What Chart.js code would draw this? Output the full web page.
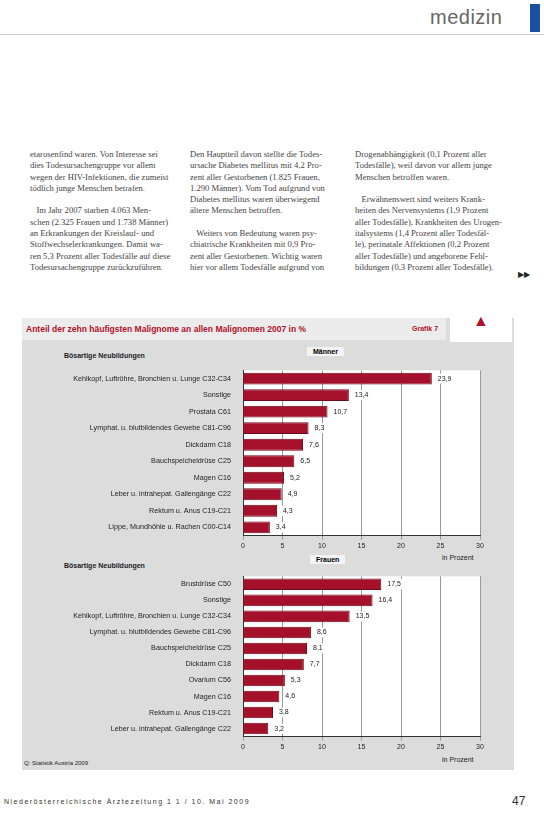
<!DOCTYPE html>
<html><head><meta charset="utf-8">
<script src="https://cdn.jsdelivr.net/npm/chart.js@4"></script>
<style>
body{margin:0;width:544px;height:822px;background:#fff;position:relative;overflow:hidden;font-family:"Liberation Sans",Arial,sans-serif}
.col{position:absolute;top:149px;width:148px;font-family:"Liberation Serif",serif;font-size:8.6px;line-height:11.3px;color:#444;white-space:pre}
#panel{position:absolute;left:22px;top:318px;width:492px;height:452px;background:#dcdcdc}
#titlebar{position:absolute;left:22px;top:318px;width:420px;height:22px;background:#ececec;color:#b0102a;font-size:8.5px;font-weight:bold;line-height:22px;padding-left:4px}
canvas{position:absolute}
.lbl{position:absolute;font-size:7px;color:#222}
.box{position:absolute;background:#f4f4f4;font-size:7px;font-weight:bold;padding:1px 6px}
</style></head><body>
<div style="position:absolute;left:430px;top:6px;font-size:20px;color:#666;letter-spacing:0.5px">medizin</div>
<div style="position:absolute;left:530px;top:4px;width:10px;height:28px;background:#1a50a0"></div>
<div style="position:absolute;left:0;top:34px;width:544px;height:1px;background:#ccc"></div>
<div class="col" style="left:30px">etarosenfind waren. Von Interesse sei
dies Todesursachengruppe vor allem
wegen der HIV-Infektionen, die zumeist
tödlich junge Menschen betrafen.

   Im Jahr 2007 starben 4.063 Men-
schen (2.325 Frauen und 1.738 Männer)
an Erkrankungen der Kreislauf- und
Stoffwechselerkrankungen. Damit wa-
ren 5,3 Prozent aller Todesfälle auf diese
Todesursachengruppe zurückzuführen.</div>
<div class="col" style="left:190px">Den Hauptteil davon stellte die Todes-
ursache Diabetes mellitus mit 4,2 Pro-
zent aller Gestorbenen (1.825 Frauen,
1.290 Männer). Vom Tod aufgrund von
Diabetes mellitus waren überwiegend
ältere Menschen betroffen.

   Weiters von Bedeutung waren psy-
chiatrische Krankheiten mit 0,9 Pro-
zent aller Gestorbenen. Wichtig waren
hier vor allem Todesfälle aufgrund von</div>
<div class="col" style="left:355px">Drogenabhängigkeit (0,1 Prozent aller
Todesfälle), weil davon vor allem junge
Menschen betroffen waren.

   Erwähnenswert sind weiters Krank-
heiten des Nervensystems (1,9 Prozent
aller Todesfälle), Krankheiten des Urogen-
italsystems (1,4 Prozent aller Todesfäl-
le), perinatale Affektionen (0,2 Prozent
aller Todesfälle) und angeborene Fehl-
bildungen (0,3 Prozent aller Todesfälle).</div>
<div style="position:absolute;left:518px;top:270px;font-size:8px;color:#222">▶▶</div>
<div id="panel"></div>
<div id="titlebar">Anteil der zehn häufigsten Malignome an allen Malignomen 2007 in %</div>
<div style="position:absolute;left:412px;top:325px;font-size:7px;color:#b0102a;font-weight:bold">Grafik 7</div>
<div style="position:absolute;left:450px;top:312px;width:62px;height:30px;background:#fff;text-align:center;color:#b0102a;font-size:16px">▲</div>
<div class="lbl" style="left:64px;top:352px;font-weight:bold">Bösartige Neubildungen</div>
<div class="box" style="left:307px;top:347px">Männer</div>
<div class="lbl" style="left:442px;top:554px">in Prozent</div>
<div class="lbl" style="left:64px;top:562px;font-weight:bold">Bösartige Neubildungen</div>
<div class="box" style="left:310px;top:555px">Frauen</div>
<div class="lbl" style="left:442px;top:756px">in Prozent</div>
<div class="lbl" style="left:24px;top:760px;font-size:6px">Q: Statistik Austria 2009</div>
<canvas id="men" width="470" height="190" style="left:30px;top:362px;width:470px;height:190px"></canvas>
<canvas id="women" width="470" height="185" style="left:30px;top:568px;width:470px;height:185px"></canvas>
<div style="position:absolute;left:4px;top:798px;font-size:7px;color:#333;letter-spacing:1.5px">Niederösterreichische Ärztezeitung 1 1 / 10. Mai 2009</div>
<div style="position:absolute;left:512px;top:794px;font-size:12px;color:#333">47</div>
<script>
var menLabels = ["Kehlkopf, Luftröhre, Bronchien u. Lunge C32-C34", "Sonstige", "Prostata C61", "Lymphat. u. blutbildendes Gewebe C81-C96", "Dickdarm C18", "Bauchspeicheldrüse C25", "Magen C16", "Leber u. intrahepat. Gallengänge C22", "Rektum u. Anus C19-C21", "Lippe, Mundhöhle u. Rachen C00-C14"];
var menValues = [23.9, 13.4, 10.7, 8.3, 7.6, 6.5, 5.2, 4.9, 4.3, 3.4];
var womenLabels = ["Brustdrüse C50", "Sonstige", "Kehlkopf, Luftröhre, Bronchien u. Lunge C32-C34", "Lymphat. u. blutbildendes Gewebe C81-C96", "Bauchspeicheldrüse C25", "Dickdarm C18", "Ovarium C56", "Magen C16", "Rektum u. Anus C19-C21", "Leber u. intrahepat. Gallengänge C22"];
var womenValues = [17.5, 16.4, 13.5, 8.6, 8.1, 7.7, 5.3, 4.6, 3.8, 3.2];
var xTicks = [0, 5, 10, 15, 20, 25, 30];

var valueLabels = {
  id: 'valueLabels',
  afterDatasetsDraw: function(chart){
    var c = chart.ctx;
    var meta = chart.getDatasetMeta(0);
    c.save();
    c.font = '7px "Liberation Sans"';
    c.textBaseline = 'middle';
    meta.data.forEach(function(bar, i){
      var v = chart.data.datasets[0].data[i];
      var t = v.toFixed(1).replace('.', ',');
      var w = c.measureText(t).width;
      c.fillStyle = '#fff';
      c.fillRect(bar.x + 4, bar.y - 5, w + 4, 10);
      c.fillStyle = '#222';
      c.fillText(t, bar.x + 6, bar.y);
    });
    c.restore();
  },
  beforeDraw: function(chart){
    var a = chart.chartArea;
    chart.ctx.fillStyle = '#fff';
    chart.ctx.fillRect(a.left, a.top, a.right - a.left, a.bottom - a.top);
  }
};

function makeChart(id, labels, values){
  return new Chart(document.getElementById(id), {
    type: 'bar',
    data: {
      labels: labels,
      datasets: [{
        data: values,
        backgroundColor: '#a5102b',
        borderColor: '#6a0a1a',
        borderWidth: 1,
        barPercentage: 0.72,
        categoryPercentage: 1
      }]
    },
    options: {
      indexAxis: 'y',
      responsive: false,
      animation: false,
      layout: { padding: { right: 20, top: 2 } },
      plugins: { legend: { display: false }, tooltip: { enabled: false } },
      scales: {
        x: {
          min: 0, max: 30,
          afterBuildTicks: function(ax){ ax.ticks = xTicks.map(function(v){ return { value: v }; }); },
          grid: { color: '#999', drawTicks: true, tickLength: 4 },
          border: { color: '#333' },
          ticks: { color: '#222', font: { size: 7 }, padding: 2 }
        },
        y: {
          afterFit: function(ax){ ax.width = 213; },
          grid: { display: false },
          border: { color: '#333' },
          ticks: { color: '#222', font: { size: 7.2 }, padding: 4 }
        }
      }
    },
    plugins: [valueLabels]
  });
}
makeChart('men', menLabels, menValues);
makeChart('women', womenLabels, womenValues);
</script>
</body></html>
